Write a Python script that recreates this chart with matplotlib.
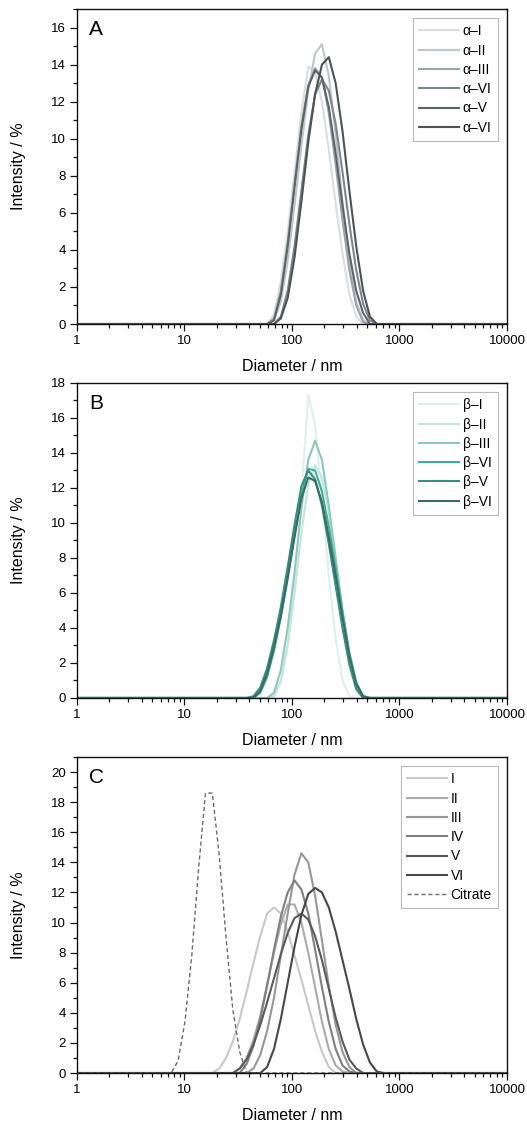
import numpy as np
import matplotlib.pyplot as plt
from matplotlib.ticker import FixedLocator, FixedFormatter, LogLocator, NullFormatter, MultipleLocator

plt.rcParams['font.family'] = ['Liberation Sans', 'DejaVu Sans']

# DLS size bins [nm] (log spaced, as given by the instrument)
bins = [0.9649, 1.117, 1.294, 1.499, 1.736, 2.01, 2.328, 2.696, 3.122, 3.615,
        4.187, 4.849, 5.615, 6.503, 7.531, 8.721, 10.1, 11.7, 13.54, 15.69,
        18.17, 21.04, 24.36, 28.21, 32.67, 37.84, 43.82, 50.75, 58.77, 68.06,
        78.82, 91.28, 105.7, 122.4, 141.8, 164.2, 190.1, 220.2, 255.0, 295.3,
        342.0, 396.1, 458.7, 531.2, 615.1, 712.4, 825.0, 955.4, 1106, 1281,
        1484, 1718, 1990, 2305, 2669, 3091, 3580, 4145, 4801, 5560, 6439,
        7456, 8635, 10000]

# ---- panel A (alpha) : first non-zero bin + intensities [%]
a_labels = ["α–I", "α–II", "α–III", "α–VI", "α–V", "α–VI"]
a_start = [68.06, 68.06, 68.06, 78.82, 68.06, 78.82]
a_vals = [
    [0.5, 2.3, 5.0, 8.2, 11.4, 13.9, 13.6, 12.0, 9.4, 6.5, 3.8, 1.6, 0.4],
    [0.2, 1.2, 3.4, 6.4, 9.6, 12.6, 14.6, 15.1, 13.4, 10.2, 6.6, 3.4, 1.2, 0.2],
    [0.3, 1.8, 4.4, 7.6, 10.7, 12.9, 13.8, 13.3, 11.4, 8.6, 5.6, 2.9, 1.0, 0.1],
    [0.4, 1.8, 4.2, 7.2, 10.2, 12.4, 13.2, 12.6, 10.8, 8.2, 5.4, 2.9, 1.1, 0.2],
    [0.2, 1.6, 4.2, 7.4, 10.5, 12.8, 13.7, 13.3, 11.7, 9.2, 6.4, 3.8, 1.8, 0.6],
    [0.3, 1.4, 3.6, 6.6, 9.8, 12.4, 14.0, 14.4, 13.0, 10.4, 7.2, 4.2, 1.8, 0.4],
]
a_colors = ["#d8dee1", "#bfc6c9", "#9aa5aa", "#7b868b", "#5c6468", "#4c5357"]

# ---- panel B (beta)
b_labels = ["β–I", "β–II", "β–III", "β–VI", "β–V", "β–VI"]
b_start = [68.06, 68.06, 68.06, 50.75, 43.82, 50.75]
b_vals = [
    [0.1, 0.9, 3.0, 6.6, 11.6, 17.3, 15.6, 11.4, 7.0, 3.4, 1.0, 0.1],
    [0.1, 1.0, 3.0, 6.0, 9.4, 12.2, 13.3, 12.6, 10.6, 7.8, 5.0, 2.5, 0.8, 0.1],
    [0.3, 1.6, 4.0, 7.2, 10.8, 13.6, 14.7, 13.6, 11.0, 8.0, 5.0, 2.4, 0.7],
    [0.3, 1.2, 2.7, 4.6, 6.8, 9.3, 11.6, 13.1, 13.0, 11.8, 9.8, 7.4, 4.9, 2.6, 0.9, 0.1],
    [0.1, 0.6, 1.7, 3.3, 5.2, 7.5, 9.9, 12.1, 13.0, 12.5, 11.0, 8.8, 6.4, 4.0, 1.9, 0.5],
    [0.4, 1.4, 2.9, 4.7, 6.9, 9.2, 11.4, 12.6, 12.4, 11.2, 9.2, 7.0, 4.6, 2.4, 0.8, 0.1],
]
b_colors = ["#dff0ec", "#c2e5de", "#8cc8bc", "#3fae9a", "#358f80", "#3a6a61"]

# ---- panel C
c_labels = ["I", "II", "III", "IV", "V", "VI", "Citrate"]
c_start = [21.04, 32.67, 43.82, 37.84, 32.67, 58.77, 8.721]
c_vals = [
    [0.3, 1.0, 2.1, 3.6, 5.4, 7.3, 9.1, 10.6, 11.0, 10.6, 9.4, 7.8, 6.2, 4.5, 2.8, 1.4, 0.4],
    [0.3, 1.0, 2.2, 3.8, 5.9, 8.0, 9.9, 11.2, 11.2, 10.0, 8.0, 5.7, 3.4, 1.6, 0.5, 0.1],
    [0.3, 1.2, 2.8, 5.0, 7.8, 10.6, 13.2, 14.6, 14.0, 11.8, 8.8, 5.8, 3.2, 1.4, 0.4],
    [0.6, 1.8, 3.6, 5.8, 8.2, 10.4, 12.0, 12.8, 12.2, 10.6, 8.2, 5.7, 3.4, 1.6, 0.5, 0.1],
    [0.3, 0.9, 1.9, 3.2, 4.7, 6.3, 7.9, 9.3, 10.3, 10.6, 10.2, 9.1, 7.5, 5.6, 3.7, 2.1, 0.9, 0.3],
    [0.4, 1.6, 3.6, 6.0, 8.4, 10.5, 11.9, 12.3, 12.0, 11.0, 9.4, 7.5, 5.6, 3.6, 1.9, 0.7, 0.1],
    [0.8, 3.4, 7.8, 13.6, 18.6, 18.6, 14.5, 9.0, 4.2, 1.4],
]
c_colors = ["#c8c8c8", "#ababab", "#979797", "#7f7f7f", "#5a5a5a", "#474747", "#6a6a6a"]


def full_curve(start, vals):
    # zeros outside the measured peak
    y = np.zeros(len(bins))
    i0 = bins.index(start)
    y[i0:i0 + len(vals)] = vals
    return y


fig = plt.figure(figsize=(5.27, 11.27), dpi=100)
rects = [[0.146, 0.7125, 0.816, 0.2795],
         [0.146, 0.3807, 0.816, 0.2795],
         [0.146, 0.0479, 0.816, 0.2804]]
panels = [("A", a_labels, a_start, a_vals, a_colors, 17),
          ("B", b_labels, b_start, b_vals, b_colors, 18),
          ("C", c_labels, c_start, c_vals, c_colors, 21)]

for rect, (letter, labels, starts, vals, colors, ymax) in zip(rects, panels):
    ax = fig.add_axes(rect)
    for lab, st, v, col in zip(labels, starts, vals, colors):
        if lab == "Citrate":
            ax.plot(bins, full_curve(st, v), color=col, lw=1.0, dashes=(3, 2), label=lab)
        else:
            ax.plot(bins, full_curve(st, v), color=col, lw=1.5, label=lab)

    ax.set_xscale("log")
    ax.set_xlim(1, 10000)
    ax.set_ylim(0, ymax)
    ax.xaxis.set_major_locator(FixedLocator([1, 10, 100, 1000, 10000]))
    ax.xaxis.set_major_formatter(FixedFormatter(["1", "10", "100", "1000", "10000"]))
    ax.xaxis.set_minor_locator(LogLocator(base=10, subs=np.arange(2, 10)))
    ax.xaxis.set_minor_formatter(NullFormatter())
    ax.yaxis.set_major_locator(MultipleLocator(2))
    ax.yaxis.set_minor_locator(MultipleLocator(1))
    ax.tick_params(which="both", direction="out", top=False, right=False,
                   labelsize=9.5, color="#111111", width=0.9, pad=3)
    ax.tick_params(which="major", length=5)
    ax.tick_params(which="minor", length=3)
    for sp in ax.spines.values():
        sp.set_linewidth(1.0)
        sp.set_color("#111111")

    ax.set_xlabel("Diameter / nm", fontsize=11.5)
    ax.set_ylabel("Intensity / %", fontsize=11.5)
    ax.xaxis.set_label_coords(0.5, -0.11)
    ax.yaxis.set_label_coords(-0.118, 0.5)
    ax.text(0.028, 0.965, letter, transform=ax.transAxes, fontsize=15,
            va="top", ha="left")
    leg = ax.legend(loc="upper right", fontsize=10, frameon=True, fancybox=False,
                    handlelength=2.9, labelspacing=0.38, borderaxespad=0.65,
                    handletextpad=0.25, borderpad=0.45)
    leg.get_frame().set_edgecolor("#a8a8a8")
    leg.get_frame().set_linewidth(0.8)

plt.savefig("out.png", dpi=100)
